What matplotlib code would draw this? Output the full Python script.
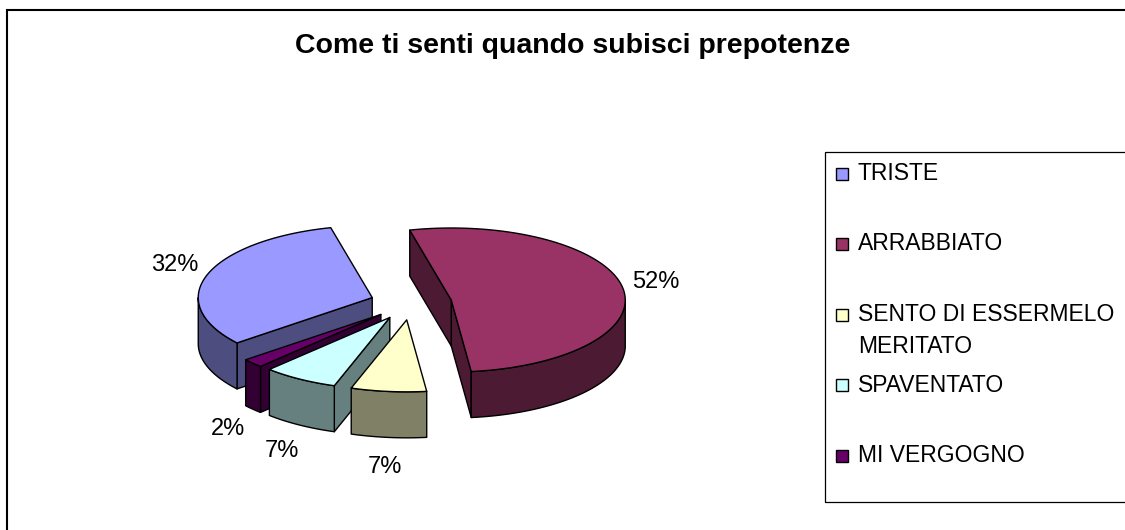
import numpy as np
import matplotlib
matplotlib.use('Agg')
import matplotlib.pyplot as plt
from matplotlib.patches import Polygon, Rectangle

plt.rcParams['font.family'] = ['Liberation Sans', 'DejaVu Sans']

# data
categories = ['TRISTE', 'ARRABBIATO', 'SENTO DI ESSERMELO\nMERITATO', 'SPAVENTATO', 'MI VERGOGNO']
values = [32, 52, 7, 7, 2]
top_colors = ['#9999FF', '#993366', '#FFFFCC', '#CCFFFF', '#660066']
title = 'Come ti senti quando subisci prepotenze'

W, H = 1125, 530
fig = plt.figure(figsize=(W / 100, H / 100), dpi=100)

# pie geometry (pixels): centre, radii, thickness
cx_px, cy_px = 411, 303
rx, ry = 174, 72
depth = 46 / ry
explode = 0.235
start = 219.0

ax = fig.add_axes([(cx_px - 2 * rx) / W, (H - cy_px - 3 * ry) / H, 4 * rx / W, 6 * ry / H])
ax.set_xlim(-2, 2)
ax.set_ylim(-3, 3)
ax.axis('off')


def darker(c, f=0.5):
    r, g, b = matplotlib.colors.to_rgb(c)
    return (r * f, g * f, b * f)


total = float(sum(values))
cum = np.concatenate([[0], np.cumsum(values)])
slices = []
for i, v in enumerate(values):
    hi = start - 360 * cum[i] / total
    lo = start - 360 * cum[i + 1] / total
    mid = np.radians((lo + hi) / 2)
    ox, oy = explode * np.cos(mid), explode * np.sin(mid)
    slices.append((i, lo, hi, mid, ox, oy))

# back to front
slices.sort(key=lambda s: -s[5])

ec = 'black'
lw = 1.0
for i, lo, hi, mid, ox, oy in slices:
    side = darker(top_colors[i])
    # radial faces facing the viewer
    for ang, nrm in ((lo, lo - 90), (hi, hi + 90)):
        if np.sin(np.radians(nrm)) < 0:
            a = np.radians(ang)
            px, py = ox + np.cos(a), oy + np.sin(a)
            ax.add_patch(Polygon([(ox, oy), (px, py), (px, py - depth), (ox, oy - depth)],
                                 closed=True, fc=side, ec=ec, lw=lw, joinstyle='round'))
    # curved wall, front part only
    for k in range(-2, 3):
        a0 = max(lo, -180 + 360 * k)
        a1 = min(hi, 360 * k)
        if a1 > a0:
            t = np.radians(np.linspace(a0, a1, 120))
            xs = ox + np.cos(t)
            ys = oy + np.sin(t)
            pts = list(zip(xs, ys)) + list(zip(xs[::-1], ys[::-1] - depth))
            ax.add_patch(Polygon(pts, closed=True, fc=side, ec=ec, lw=lw, joinstyle='round'))
    # top face
    t = np.radians(np.linspace(lo, hi, 200))
    pts = [(ox, oy)] + list(zip(ox + np.cos(t), oy + np.sin(t)))
    ax.add_patch(Polygon(pts, closed=True, fc=top_colors[i], ec=ec, lw=lw, joinstyle='round'))

    # percentage label
    lx, ly = ox + np.cos(mid), oy + np.sin(mid)
    if np.sin(mid) < 0:
        ly -= depth
    lx += 34 / rx * np.cos(mid)
    ly += 30 / ry * np.sin(mid)
    ax.text(lx, ly, '%d%%' % round(100 * values[i] / total), ha='center', va='center',
            fontsize=17, color='black')

# title
fig.text(573 / W, 1 - 53 / H, title, ha='center', va='baseline', fontsize=20.5, fontweight='bold')

# chart border
fig.add_artist(Rectangle((7 / W, -0.05), 1.1, 1 - 10 / H + 0.05, transform=fig.transFigure,
                         fill=False, ec='black', lw=1.5, clip_on=False))

# legend box
lg_left, lg_top, lg_bottom = 825, 152, 502
fig.add_artist(Rectangle((lg_left / W, 1 - lg_bottom / H), 1.0, (lg_bottom - lg_top) / H,
                         transform=fig.transFigure, fill=False, ec='black', lw=0.9, clip_on=False))
baseline = 180
for i, name in enumerate(categories):
    fig.add_artist(Rectangle((836 / W, 1 - (baseline - 0.5) / H), 12 / W, 12 / H,
                             transform=fig.transFigure, fc=top_colors[i], ec='black', lw=1.0))
    for j, line in enumerate(name.split('\n')):
        fig.text(858 / W, 1 - (baseline + 32 * j) / H, line, ha='left', va='baseline',
                 fontsize=16.5)
    baseline += 70.5

fig.savefig('out.png', dpi=100, facecolor='white')
